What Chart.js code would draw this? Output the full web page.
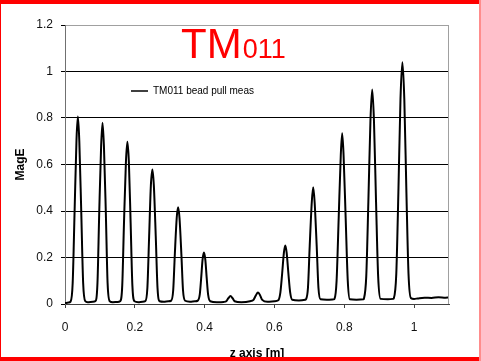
<!DOCTYPE html>
<html>
<head>
<meta charset="utf-8">
<script src="https://cdn.jsdelivr.net/npm/chart.js@4.4.1/dist/chart.umd.min.js"></script>
<style>
  body { margin: 0; background: #fff; }
  #wrap { position: relative; width: 481px; height: 361px; overflow: hidden; }
  canvas { position: absolute; left: 0; top: 0; }
  .edge { position: absolute; pointer-events: none; }
</style>
</head>
<body>
<div id="wrap">
  <canvas id="chart" width="481" height="361"></canvas>
  <div class="edge" style="left:0;top:0;width:481px;height:4px;background:#ff0000"></div>
  <div class="edge" style="left:0;top:357px;width:481px;height:4px;background:#ff0000"></div>
  <div class="edge" style="left:0;top:0;width:1px;height:361px;background:#ff0000"></div>
  <div class="edge" style="left:479px;top:0;width:2px;height:361px;background:#ff8c8c"></div>
</div>
<script>
/* chart data */
const seriesLabel = 'TM011 bead pull meas';
const titleMain = 'TM';
const titleSub = '011';
const xTicks = [0, 0.2, 0.4, 0.6, 0.8, 1];
const yTicks = [0, 0.2, 0.4, 0.6, 0.8, 1, 1.2];

const zPos = [
  0.000, 0.010, 0.016, 0.022, 0.0275, 0.033, 0.037, 0.041, 0.0465, 0.052, 0.058, 0.065, 0.080,
  0.087, 0.093, 0.098, 0.1035, 0.1075, 0.1115, 0.117, 0.122, 0.128, 0.137, 0.150,
  0.158, 0.164, 0.169, 0.1745, 0.1787, 0.183, 0.188, 0.193, 0.199, 0.210, 0.222,
  0.230, 0.236, 0.241, 0.246, 0.2504, 0.2545, 0.260, 0.265, 0.271, 0.283, 0.296,
  0.304, 0.310, 0.3145, 0.320, 0.324, 0.328, 0.3335, 0.338, 0.344, 0.358, 0.372,
  0.380, 0.386, 0.390, 0.394, 0.398, 0.402, 0.406, 0.410, 0.416, 0.435, 0.455,
  0.462, 0.468, 0.474, 0.480, 0.486, 0.505, 0.530,
  0.540, 0.547, 0.5526, 0.558, 0.565, 0.580, 0.600,
  0.611, 0.617, 0.622, 0.627, 0.631, 0.635, 0.640, 0.645, 0.651, 0.670, 0.688,
  0.690, 0.696, 0.701, 0.707, 0.711, 0.715, 0.721, 0.726, 0.732, 0.750, 0.770,
  0.772, 0.778, 0.784, 0.790, 0.794, 0.798, 0.804, 0.810, 0.816, 0.835, 0.855,
  0.856, 0.863, 0.869, 0.875, 0.880, 0.885, 0.891, 0.897, 0.904, 0.925, 0.940,
  0.942, 0.949, 0.955, 0.961, 0.9665, 0.972, 0.978, 0.984, 0.991,
  1.000, 1.010, 1.030, 1.050, 1.070, 1.090, 1.100
];

const magE = [
  0.004, 0.006, 0.010, 0.09, 0.40, 0.71, 0.806, 0.70, 0.40, 0.09, 0.012, 0.008, 0.010,
  0.012, 0.09, 0.39, 0.68, 0.78, 0.68, 0.39, 0.09, 0.012, 0.008, 0.009,
  0.012, 0.08, 0.35, 0.61, 0.698, 0.61, 0.35, 0.08, 0.012, 0.008, 0.010,
  0.012, 0.07, 0.29, 0.51, 0.579, 0.51, 0.29, 0.07, 0.012, 0.010, 0.012,
  0.014, 0.06, 0.21, 0.37, 0.416, 0.37, 0.21, 0.06, 0.014, 0.010, 0.012,
  0.014, 0.04, 0.11, 0.19, 0.221, 0.19, 0.11, 0.04, 0.012, 0.008, 0.009,
  0.012, 0.025, 0.034, 0.025, 0.012, 0.008, 0.012,
  0.018, 0.038, 0.049, 0.040, 0.018, 0.010, 0.012,
  0.016, 0.05, 0.13, 0.22, 0.252, 0.22, 0.13, 0.05, 0.018, 0.015, 0.018,
  0.020, 0.07, 0.25, 0.44, 0.502, 0.44, 0.25, 0.07, 0.020, 0.018, 0.020,
  0.022, 0.10, 0.37, 0.64, 0.734, 0.64, 0.37, 0.10, 0.020, 0.018, 0.020,
  0.022, 0.12, 0.44, 0.79, 0.923, 0.79, 0.44, 0.12, 0.022, 0.020, 0.022,
  0.025, 0.13, 0.48, 0.88, 1.04, 0.88, 0.48, 0.13, 0.025,
  0.022, 0.024, 0.027, 0.026, 0.029, 0.027, 0.028
];

const FONT = "'Liberation Sans', Arial, sans-serif";

// Title, in-plot legend and right frame line
const decorPlugin = {
    id: 'decor',
    afterDraw(chart) {
        const { ctx, chartArea: a } = chart;
        ctx.save();

        // right edge of the plot frame
        ctx.strokeStyle = '#a0a0a0';
        ctx.lineWidth = 1;
        ctx.beginPath();
        ctx.moveTo(Math.round(a.right) - 0.5, a.top);
        ctx.lineTo(Math.round(a.right) - 0.5, a.bottom);
        ctx.stroke();

        // red title "TM" + smaller "011"
        ctx.fillStyle = '#ff0000';
        ctx.textAlign = 'left';
        ctx.textBaseline = 'alphabetic';
        ctx.font = '42px ' + FONT;
        const tx = 181, ty = 58;
        ctx.fillText(titleMain, tx, ty);
        const w = ctx.measureText(titleMain).width;
        ctx.font = '27px ' + FONT;
        ctx.fillText(titleSub, tx + w + 1, ty);

        // legend
        ctx.strokeStyle = '#000';
        ctx.lineWidth = 1.5;
        ctx.beginPath();
        ctx.moveTo(131, 91);
        ctx.lineTo(148, 91);
        ctx.stroke();
        ctx.fillStyle = '#000';
        ctx.font = '10px ' + FONT;
        ctx.textBaseline = 'middle';
        ctx.fillText(chart.data.datasets[0].label, 153, 91);

        ctx.restore();
    }
};

new Chart(document.getElementById('chart'), {
    type: 'line',
    data: {
        datasets: [{
            label: seriesLabel,
            data: zPos.map((z, i) => ({ x: z, y: magE[i] })),
            borderColor: '#000',
            borderWidth: 2,
            pointRadius: 0,
            fill: false,
            cubicInterpolationMode: 'monotone'
        }]
    },
    options: {
        responsive: false,
        animation: false,
        layout: { padding: { top: 25, right: 32, left: 0, bottom: 0 } },
        plugins: {
            legend: { display: false },
            tooltip: { enabled: false }
        },
        scales: {
            x: {
                type: 'linear',
                min: 0,
                max: 1.1,
                afterFit: s => { s.height = 57; },
                afterBuildTicks: s => { s.ticks = xTicks.map(v => ({ value: v })); },
                ticks: {
                    color: '#111',
                    padding: 12,
                    maxRotation: 0,
                    font: { family: FONT, size: 12 },
                    callback: v => String(v)
                },
                grid: {
                    drawOnChartArea: false,
                    tickLength: 4,
                    color: '#404040'
                },
                border: { color: '#404040', width: 1 },
                title: {
                    display: true,
                    text: 'z axis [m]',
                    color: '#000',
                    font: { family: FONT, size: 12, weight: 'bold' },
                    padding: { top: 0, bottom: 0 }
                }
            },
            y: {
                min: 0,
                max: 1.2,
                afterFit: s => { s.width = 65; },
                afterBuildTicks: s => { s.ticks = yTicks.map(v => ({ value: v })); },
                ticks: {
                    color: '#111',
                    padding: 8,
                    font: { family: FONT, size: 12 },
                    callback: v => String(v)
                },
                grid: {
                    tickLength: 4,
                    color: ctx => (ctx.tick && ctx.tick.value === 1.2 ? '#a0a0a0' : '#000'),
                    tickColor: '#000'
                },
                border: { color: '#707070', width: 1 },
                title: {
                    display: true,
                    text: 'MagE',
                    color: '#000',
                    font: { family: FONT, size: 12, weight: 'bold' },
                    padding: { top: 13, bottom: 0 }
                }
            }
        }
    },
    plugins: [decorPlugin]
});
</script>
</body>
</html>
